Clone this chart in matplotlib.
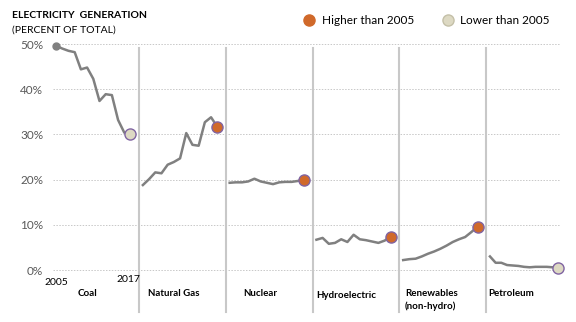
import numpy as np
import matplotlib.pyplot as plt
from matplotlib.lines import Line2D

plt.rcParams['font.family'] = ['Lato', 'DejaVu Sans']

# Share of US electricity generation, percent, 2005-2017
years = list(range(2005, 2018))
sources = ['Coal', 'Natural Gas', 'Nuclear', 'Hydroelectric', 'Renewables\n(non-hydro)', 'Petroleum']
coal = [49.6, 49.0, 48.5, 48.2, 44.4, 44.8, 42.3, 37.4, 38.9, 38.7, 33.2, 30.4, 30.1]
gas = [18.8, 20.1, 21.6, 21.4, 23.3, 23.9, 24.7, 30.3, 27.7, 27.5, 32.7, 33.8, 31.7]
nuclear = [19.3, 19.4, 19.4, 19.6, 20.2, 19.6, 19.3, 19.0, 19.4, 19.5, 19.5, 19.7, 20.0]
hydro = [6.7, 7.1, 5.8, 6.0, 6.8, 6.2, 7.8, 6.8, 6.6, 6.3, 6.0, 6.5, 7.4]
renew = [2.2, 2.4, 2.5, 3.0, 3.6, 4.1, 4.7, 5.4, 6.2, 6.8, 7.3, 8.4, 9.6]
petro = [3.0, 1.6, 1.6, 1.1, 1.0, 0.9, 0.7, 0.6, 0.7, 0.7, 0.7, 0.6, 0.5]
series = [coal, gas, nuclear, hydro, renew, petro]
yticks = [0, 10, 20, 30, 40, 50]

LINE = '#808080'
HIGH = '#D0692A'
LOW = '#DDD9C3'
EDGE = '#8064A2'
SEP = '#c8c8c8'

fig = plt.figure(figsize=(5.76, 3.22), dpi=100)
ax = fig.add_axes([53 / 576, (322 - 315.2) / 322, 507 / 576, (315.2 - 35) / 322])
ax.set_xlim(-0.5, 81.3)
ax.set_ylim(-10, 52)
for s in ax.spines.values():
    s.set_visible(False)
ax.set_xticks([])
ax.set_yticks(yticks)
ax.set_yticklabels([f'{t}%' for t in yticks], color='#595959', fontsize=8.5)
ax.tick_params(axis='y', length=0, pad=7)
for t in yticks:
    ax.axhline(t, color=SEP, lw=0.7, ls=(0, (1.5, 1.5)), zorder=0)

x0 = np.arange(len(years))
for i, (name, vals) in enumerate(zip(sources, series)):
    # last panel is drawn a little narrower so it stays inside the grid
    step = 11 / 12 if i == len(series) - 1 else 1.0
    x = x0 * step + 14 * i
    ax.plot(x, vals, color=LINE, lw=1.8, clip_on=False, zorder=2)
    col = HIGH if vals[-1] > vals[0] else LOW
    ax.plot(x[-1], vals[-1], 'o', ms=8, mfc=col, mec=EDGE, mew=1, clip_on=False, zorder=3)
    if i > 0:
        xs = 14 * i - 0.6
        ax.plot([xs, xs], [49.1, -9.3], color=SEP, lw=1.5, clip_on=False, zorder=1)

ax.plot(0, coal[0], 'o', ms=5, color=LINE, clip_on=False, zorder=3)

# year labels under coal
ax.text(0, -2.7, '2005', ha='center', va='center', fontsize=7.5)
ax.text(11.6, -2.2, '2017', ha='center', va='center', fontsize=7.5)

# category labels
lab_x = [5.0, 14.8, 30.2, 41.9, 56.3, 69.8]
lab_y = [-5.3, -5.3, -5.3, -5.7, -6.6, -5.1]
lab_ha = ['center', 'left', 'left', 'left', 'left', 'left']
for name, lx, ly, ha in zip(sources, lab_x, lab_y, lab_ha):
    ax.text(lx, ly, name, ha=ha, va='center', fontsize=7, fontweight='bold',
            linespacing=1.5)

# title
fig.text(12 / 576, 1 - 16 / 322, 'ELECTRICITY  GENERATION', fontsize=7.5,
         fontweight='bold', va='center', ha='left')
fig.text(12 / 576, 1 - 30 / 322, '(PERCENT OF TOTAL)', fontsize=7.5,
         va='center', ha='left')

# legend
fig.add_artist(Line2D([309 / 576], [1 - 20 / 322], marker='o', ms=8, mfc=HIGH,
                      mec=HIGH, transform=fig.transFigure))
fig.text(322 / 576, 1 - 20 / 322, 'Higher than 2005', fontsize=8.5, va='center')
fig.add_artist(Line2D([448 / 576], [1 - 20 / 322], marker='o', ms=8, mfc=LOW,
                      mec='#c4c0a8', transform=fig.transFigure))
fig.text(460 / 576, 1 - 20 / 322, 'Lower than 2005', fontsize=8.5, va='center')

fig.savefig('out.png', dpi=100)
